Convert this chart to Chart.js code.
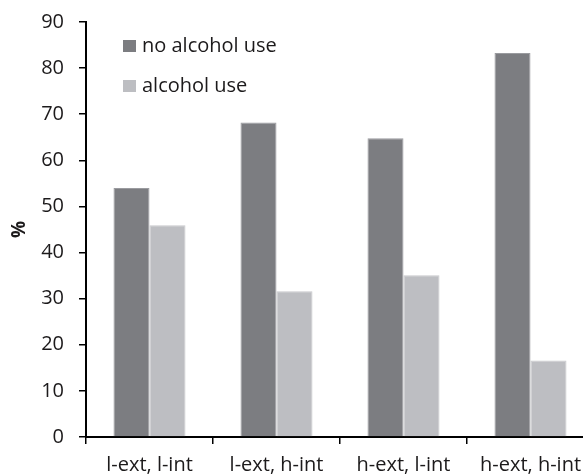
<!DOCTYPE html>
<html>
<head>
<meta charset="utf-8">
<script src="https://cdn.jsdelivr.net/npm/chart.js@4/dist/chart.umd.min.js"></script>
<style>
  html, body { margin: 0; padding: 0; background: #fff; overflow: hidden; }
  #wrap { position: relative; width: 600px; height: 475px; }
</style>
</head>
<body>
<div id="wrap"><canvas id="c"></canvas></div>
<script>
const categories = ["l-ext, l-int", "l-ext, h-int", "h-ext, l-int", "h-ext, h-int"];
const noAlcoholUse = [54.0, 68.2, 64.8, 83.3];
const alcoholUse = [45.9, 31.6, 35.1, 16.6];
const seriesLabels = ["no alcohol use", "alcohol use"];
const yTicks = [0, 10, 20, 30, 40, 50, 60, 70, 80, 90];

const FONT = "'Open Sans', sans-serif";
const TEXT = "#1c1a1b";
const DARK = "#7c7d81";
const LIGHT = "#bdbec2";

const legendPlugin = {
  id: "insideLegend",
  afterDraw(chart) {
    const ctx = chart.ctx;
    ctx.save();
    const x0 = 123, ys = [40, 80];
    chart.data.datasets.forEach((ds, i) => {
      ctx.fillStyle = ds.backgroundColor;
      ctx.fillRect(x0, ys[i], 13, 12);
      ctx.fillStyle = TEXT;
      ctx.font = "20px " + FONT;
      ctx.textBaseline = "middle";
      ctx.textAlign = "left";
      ctx.fillText(ds.label, x0 + 19, ys[i] + 6);
    });
    ctx.restore();
  }
};

new Chart(document.getElementById("c"), {
  type: "bar",
  data: {
    labels: categories,
    datasets: [
      { label: seriesLabels[0], data: noAlcoholUse, backgroundColor: DARK, borderColor: "#9a9b9f", borderWidth: 1 },
      { label: seriesLabels[1], data: alcoholUse, backgroundColor: LIGHT, borderColor: "#c8c9cc", borderWidth: 1 }
    ]
  },
  options: {
    responsive: true,
    maintainAspectRatio: false,
    animation: false,
    devicePixelRatio: 1,
    layout: { padding: { top: 22, right: 6, left: 0, bottom: 0 } },
    plugins: { legend: { display: false }, tooltip: { enabled: false } },
    datasets: { bar: { categoryPercentage: 0.567, barPercentage: 1.0 } },
    scales: {
      x: {
        offset: true,
        grid: { offset: true, drawOnChartArea: false, drawTicks: true, tickLength: 7, color: "#000", lineWidth: 1.5 },
        border: { display: true, color: "#000", width: 2 },
        ticks: { color: TEXT, font: { family: FONT, size: 20 }, padding: 9, maxRotation: 0, autoSkip: false },
        afterFit(s) { s.height = 38; s.paddingLeft = 0; s.paddingRight = 0; }
      },
      y: {
        min: 0, max: 90,
        afterBuildTicks(s) { s.ticks = yTicks.map(v => ({ value: v })); },
        grid: { drawOnChartArea: false, drawTicks: true, tickLength: 7, color: "#000", lineWidth: 1.5 },
        border: { display: true, color: "#000", width: 2 },
        ticks: { color: TEXT, font: { family: FONT, size: 20 }, padding: 15 },
        title: { display: true, text: "%", color: TEXT, font: { family: FONT, size: 19, weight: "bold" }, padding: { top: 8, bottom: 0 } },
        afterFit(s) { s.width = 86; s.paddingTop = 0; s.paddingBottom = 0; }
      }
    }
  },
  plugins: [legendPlugin]
});
</script>
</body>
</html>
